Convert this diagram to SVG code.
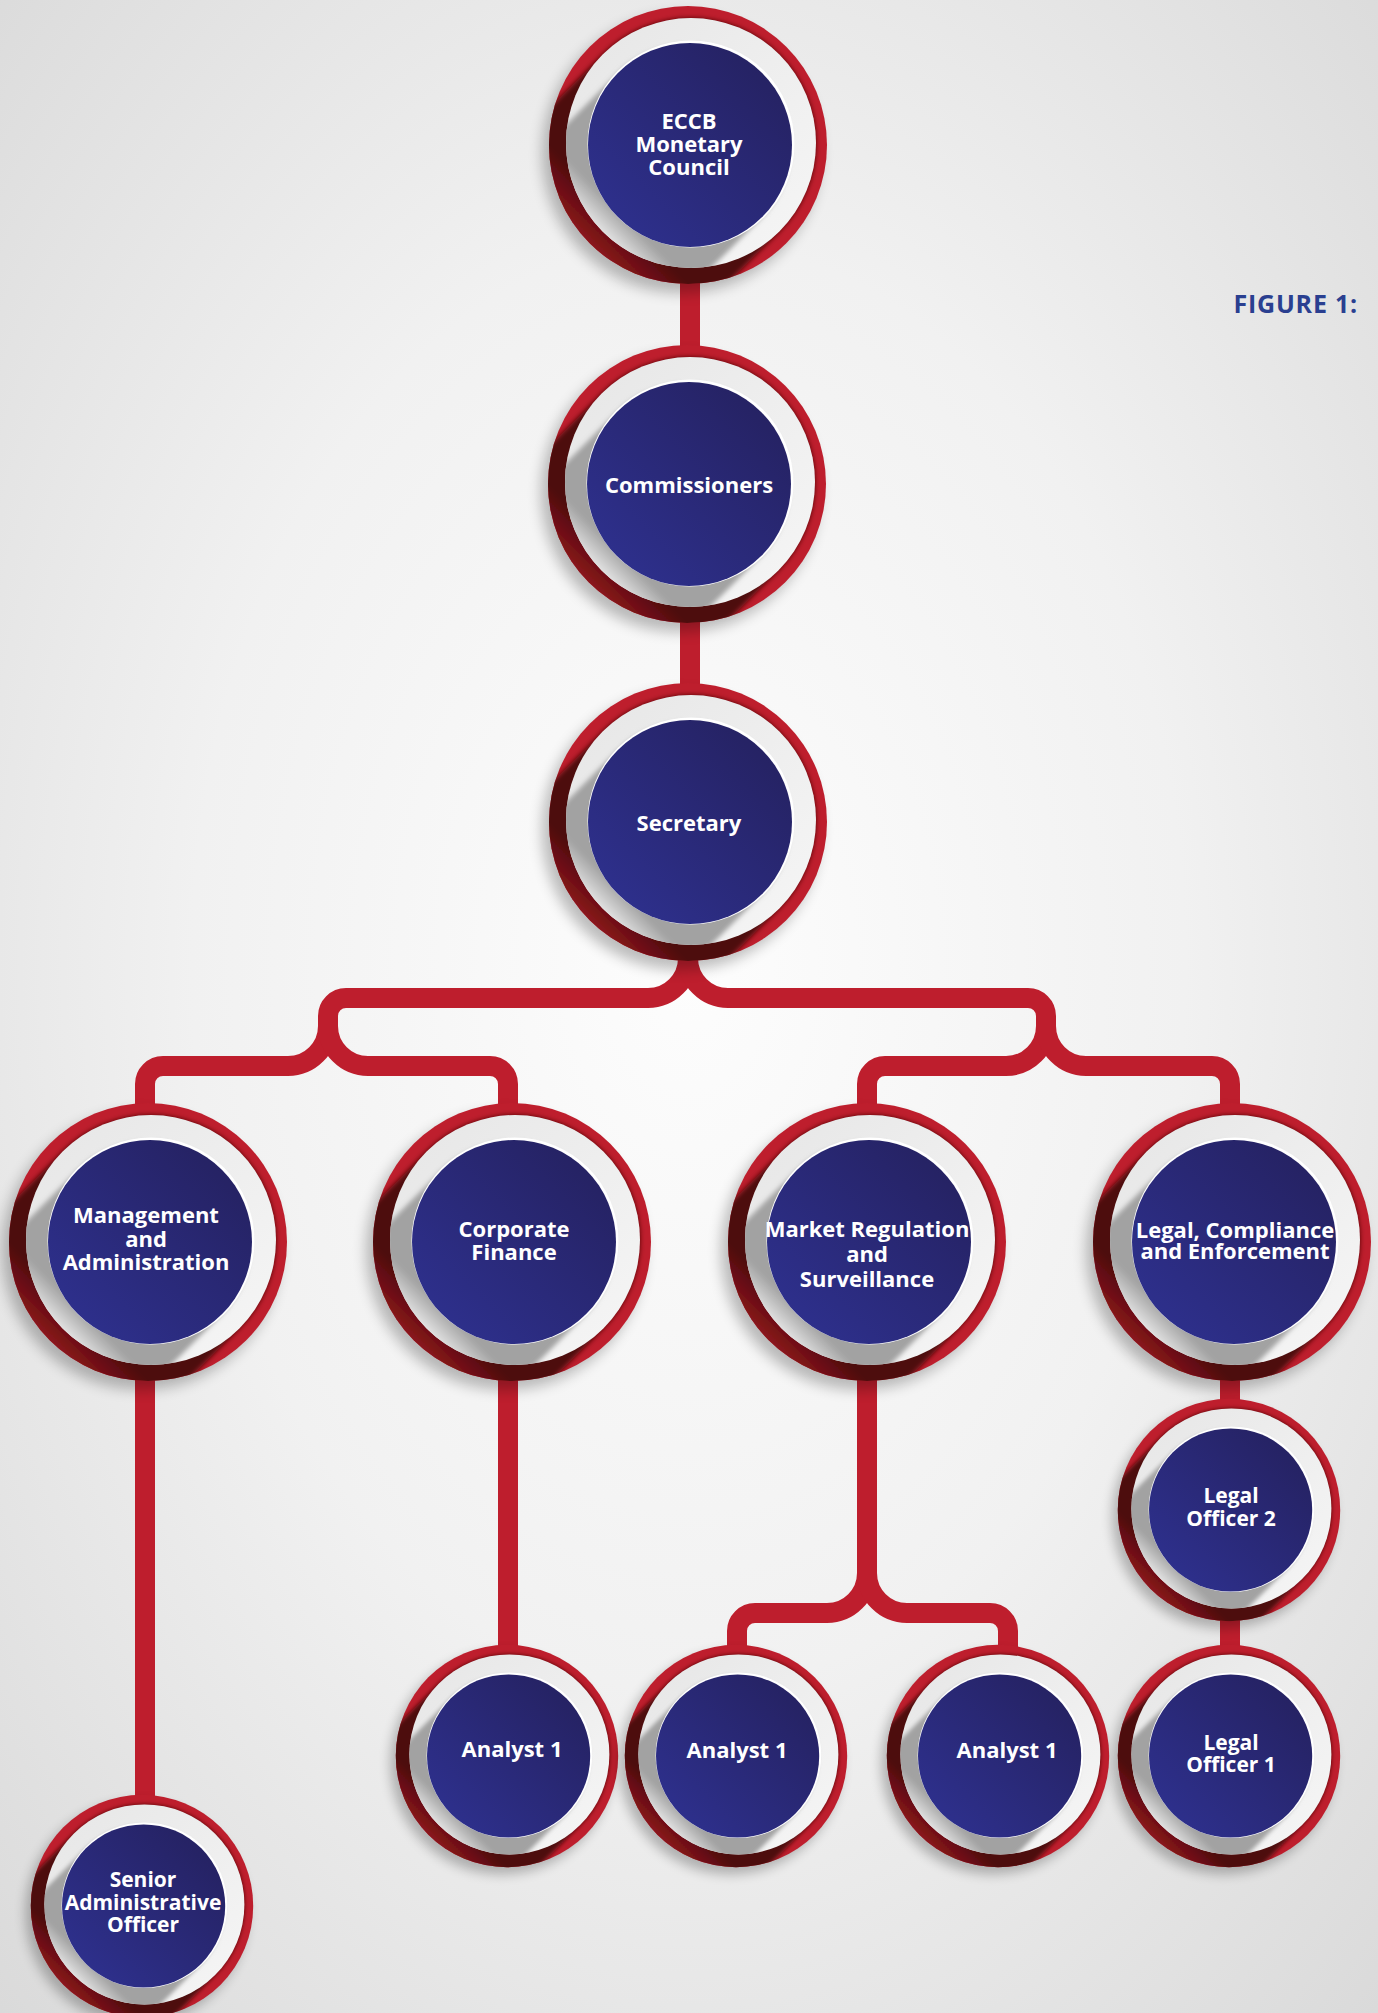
<svg xmlns="http://www.w3.org/2000/svg" width="1378" height="2013" viewBox="0 0 1378 2013">
<style>
.lbl{font-family:"Open Sans","Liberation Sans",sans-serif;font-weight:700;font-size:22px;fill:#ffffff;text-anchor:middle}
.sm{font-size:21px}
.fig{font-family:"Open Sans","Liberation Sans",sans-serif;font-weight:700;font-size:25px;letter-spacing:0.8px;fill:#2a3f90;text-anchor:end}
.wire{fill:none;stroke:#be1e2d;stroke-width:20;stroke-linejoin:round}
</style>
<defs>
<radialGradient id="bg" cx="50%" cy="48%" r="72%">
<stop offset="0" stop-color="#fdfdfd"/>
<stop offset="0.5" stop-color="#f1f1f1"/>
<stop offset="1" stop-color="#dadada"/>
</radialGradient>
<linearGradient id="navy" x1="0" y1="1" x2="1" y2="0">
<stop offset="0" stop-color="#2f3293"/>
<stop offset="1" stop-color="#24205c"/>
</linearGradient>
<linearGradient id="disc" x1="0" y1="0" x2="1" y2="1">
<stop offset="0" stop-color="#e6e6e6"/>
<stop offset="1" stop-color="#f6f6f6"/>
</linearGradient>
<linearGradient id="redShade" gradientUnits="userSpaceOnUse" x1="0" y1="0" x2="-100" y2="100">
<stop offset="0.7" stop-color="#4e0a0e"/>
<stop offset="1" stop-color="#8e161c"/>
</linearGradient>
<linearGradient id="grayShade" gradientUnits="userSpaceOnUse" x1="2" y1="0" x2="-86" y2="88">
<stop offset="0.78" stop-color="#a2a2a2"/>
<stop offset="1" stop-color="#e4e4e4"/>
</linearGradient>
<clipPath id="clipRed"><circle cx="0" cy="0" r="139"/></clipPath>
<clipPath id="clipDisc"><circle cx="3" cy="-2" r="125"/></clipPath>
<filter id="soft" x="-30%" y="-30%" width="160%" height="160%"><feGaussianBlur stdDeviation="7"/></filter>
<filter id="edge" x="-20%" y="-20%" width="140%" height="140%"><feGaussianBlur stdDeviation="2.5"/></filter>
<g id="ring">
<circle cx="-7" cy="9" r="139" fill="#000000" opacity="0.25" filter="url(#soft)"/>
<circle cx="0" cy="0" r="139" fill="#be1e2d"/>
<g clip-path="url(#clipRed)">
<path filter="url(#edge)" fill="url(#redShade)" d="M91.4,86.4 L34.4,143.4 A125,125 0 0 1 -142.4,-33.4 L-85.4,-90.4 A125,125 0 0 1 91.4,86.4 Z"/>
</g>
<circle cx="3" cy="-2" r="125" fill="url(#disc)"/>
<g clip-path="url(#clipDisc)">
<path filter="url(#edge)" fill="url(#grayShade)" d="M74.1,72.1 L24.1,122.1 A102,102 0 0 1 -120.1,-22.1 L-70.1,-72.1 A102,102 0 0 1 74.1,72.1 Z"/>
</g>
<circle cx="3" cy="-1" r="103.5" fill="#ffffff"/>
<circle cx="2" cy="0" r="102" fill="url(#navy)"/>
</g>
</defs>
<rect x="0" y="0" width="1378" height="2013" fill="url(#bg)"/>
<text class="fig" x="1358" y="313">FIGURE 1:</text>
<g id="connectors">
<path class="wire" d="M690,270 V360"/>
<path class="wire" d="M690,610 V700"/>
<path class="wire" d="M688,940 V958 A40,40 0 0 1 648,998 H346 A18,18 0 0 0 328,1016 V1026 A40,40 0 0 1 288,1066 H163 A18,18 0 0 0 145,1084 V1115"/>
<path class="wire" d="M328,1016 V1026 A40,40 0 0 0 368,1066 H490 A18,18 0 0 1 508,1084 V1115"/>
<path class="wire" d="M688,940 V958 A40,40 0 0 0 728,998 H1028 A18,18 0 0 1 1046,1016 V1026 A40,40 0 0 1 1006,1066 H885 A18,18 0 0 0 867,1084 V1115"/>
<path class="wire" d="M1046,1016 V1026 A40,40 0 0 0 1086,1066 H1212 A18,18 0 0 1 1230,1084 V1115"/>
<path class="wire" d="M145,1380 V1810"/>
<path class="wire" d="M508,1380 V1660"/>
<path class="wire" d="M867,1380 V1573 A40,40 0 0 1 827,1613 H755 A18,18 0 0 0 737,1631 V1660"/>
<path class="wire" d="M867,1573 A40,40 0 0 0 907,1613 H990 A18,18 0 0 1 1008,1631 V1660"/>
<path class="wire" d="M1230,1380 V1415"/>
<path class="wire" d="M1230,1615 V1660"/>
</g>
<g id="node-eccb">
<use href="#ring" transform="translate(688,145)"/>
<text class="lbl"><tspan x="689" y="129">ECCB</tspan><tspan x="689" y="152">Monetary</tspan><tspan x="689" y="175">Council</tspan></text>
</g>
<g id="node-commissioners">
<use href="#ring" transform="translate(687,484)"/>
<text class="lbl" x="689" y="493">Commissioners</text>
</g>
<g id="node-secretary">
<use href="#ring" transform="translate(688,822)"/>
<text class="lbl" x="689" y="831">Secretary</text>
</g>
<g id="node-management">
<use href="#ring" transform="translate(148,1242)"/>
<text class="lbl"><tspan x="146" y="1223">Management</tspan><tspan x="146" y="1247">and</tspan><tspan x="146" y="1270">Administration</tspan></text>
</g>
<g id="node-corporate-finance">
<use href="#ring" transform="translate(512,1242)"/>
<text class="lbl"><tspan x="514" y="1237">Corporate</tspan><tspan x="514" y="1260">Finance</tspan></text>
</g>
<g id="node-market-regulation">
<use href="#ring" transform="translate(867,1242)"/>
<text class="lbl"><tspan x="867" y="1237">Market Regulation</tspan><tspan x="867" y="1262">and</tspan><tspan x="867" y="1287">Surveillance</tspan></text>
</g>
<g id="node-legal">
<use href="#ring" transform="translate(1232,1242)"/>
<text class="lbl"><tspan x="1235" y="1238">Legal, Compliance</tspan><tspan x="1235" y="1259">and Enforcement</tspan></text>
</g>
<g id="node-legal-officer-2">
<use href="#ring" transform="translate(1229,1510) scale(0.8)"/>
<text class="lbl sm"><tspan x="1231" y="1503">Legal</tspan><tspan x="1231" y="1526">Officer 2</tspan></text>
</g>
<g id="node-legal-officer-1">
<use href="#ring" transform="translate(1229,1756) scale(0.8)"/>
<text class="lbl sm"><tspan x="1231" y="1750">Legal</tspan><tspan x="1231" y="1772">Officer 1</tspan></text>
</g>
<g id="node-analyst-cf">
<use href="#ring" transform="translate(507,1756) scale(0.8)"/>
<text class="lbl" x="512" y="1757">Analyst 1</text>
</g>
<g id="node-analyst-mr-1">
<use href="#ring" transform="translate(736,1756) scale(0.8)"/>
<text class="lbl" x="737" y="1758">Analyst 1</text>
</g>
<g id="node-analyst-mr-2">
<use href="#ring" transform="translate(998,1756) scale(0.8)"/>
<text class="lbl" x="1007" y="1758">Analyst 1</text>
</g>
<g id="node-senior-admin">
<use href="#ring" transform="translate(142,1906) scale(0.8)"/>
<text class="lbl sm"><tspan x="143" y="1887">Senior</tspan><tspan x="143" y="1910">Administrative</tspan><tspan x="143" y="1932">Officer</tspan></text>
</g>
</svg>
